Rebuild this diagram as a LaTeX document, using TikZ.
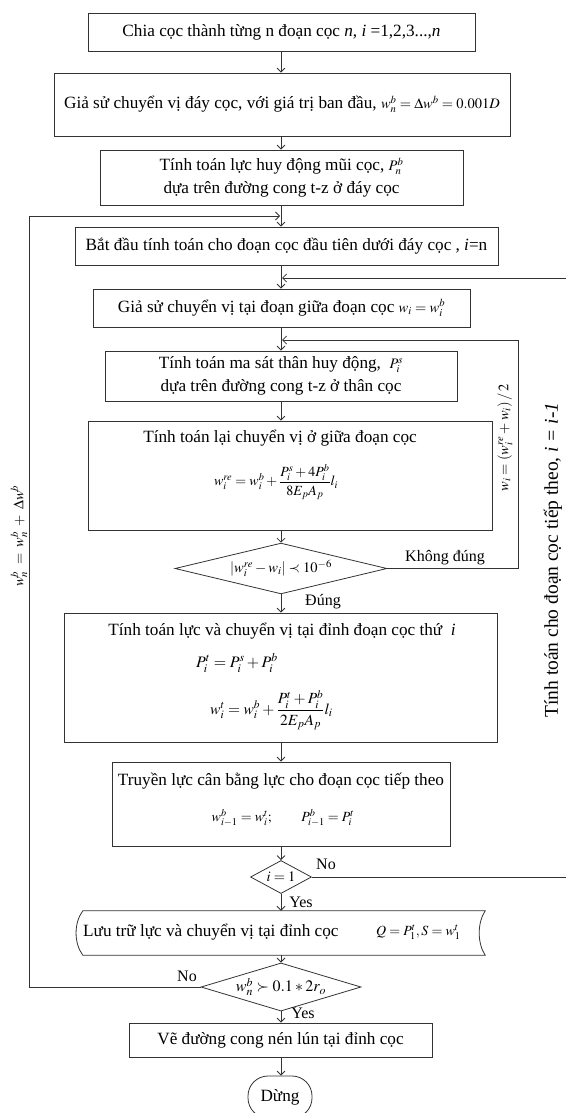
\documentclass[tikz,border=0pt]{standalone}
\usepackage{amsmath}
\usepackage{mathptmx}
\usepackage{fontspec}
\setmainfont{Liberation Serif}
\usetikzlibrary{arrows.meta,shapes.geometric,calc}
\newcommand\bodyfs{\fontsize{17.2}{23}\selectfont}
\newcommand\mathfs{\fontsize{14.5}{18}\selectfont}
\newcommand\labfs{\fontsize{16}{18}\selectfont}
\begin{document}
\begin{tikzpicture}[x=1pt,y=-1pt,
  ln/.style={draw=black!80,line width=0.8pt},
  box/.style={ln, rectangle, inner sep=2pt, align=center, font=\bodyfs},
  dec/.style={ln, diamond, inner sep=0pt, aspect=3, font=\mathfs},
  lbl/.style={font=\labfs, inner sep=1pt},
  txt/.style={inner sep=0pt, font=\bodyfs},
  arr/.style={ln, -{Straight Barb[length=4pt,width=8pt]}}]
\useasboundingbox (0,0) rectangle (565,1113);
\coordinate (col) at (281,0);
% boxes
\node[box, minimum width=387pt, minimum height=38pt] (b1) at (281.5,32) {Chia cọc thành từng n đoạn cọc \textit{n}, \textit{i} =1,2,3...,\textit{n}};
\node[box, minimum width=456pt, minimum height=63pt] (b2) at (282,104.5) {Giả sử chuyển vị đáy cọc, với giá trị ban đầu, {\mathfs$w_n^b=\Delta w^b=0.001D$}};
\node[box, minimum width=363pt, minimum height=55pt] (b3) at (281.5,177.5) {Tính toán lực huy động mũi cọc, {\mathfs$P_n^b$}\\dựa trên đường cong t-z ở đáy cọc};
\node[box, minimum width=423pt, minimum height=38pt] (b4) at (286.5,246) {Bắt đầu tính toán cho đoạn cọc đầu tiên dưới đáy cọc , \textit{i}=n};
\node[box, minimum width=377pt, minimum height=38pt] (b5) at (281.5,308) {Giả sử chuyển vị tại đoạn giữa đoạn cọc {\mathfs$w_i=w_i^b$}};
\node[box, minimum width=352pt, minimum height=50pt] (b6) at (281,376) {Tính toán ma sát thân huy động,\ \ {\mathfs$P_i^s$}\\dựa trên đường cong t-z ở thân cọc};
\node[ln, rectangle, minimum width=404pt, minimum height=109pt] (b7) at (290,475.5) {};
\node[txt] (b7t) at (280,438) {Tính toán lại chuyển vị ở giữa đoạn cọc};
\node[txt, font=\fontsize{14}{16}\selectfont] (b7f) at (276,482) {$w_i^{re}=w_i^b+\dfrac{P_i^s+4P_i^b}{8E_pA_p}l_i$};
\node[dec, minimum width=212pt, minimum height=49pt] (d1) at (281,568.5) {$\left|w_i^{re}-w_i\right|\prec 10^{-6}$};
\node[ln, rectangle, minimum width=433pt, minimum height=129pt] (b8) at (280.5,677.5) {};
\node[txt] (b8t) at (282,631) {Tính toán lực và chuyển vị tại đỉnh đoạn cọc thứ \ \textit{i}};
\node[txt, font=\fontsize{16}{18}\selectfont, anchor=west] (b8f1) at (196,663) {$P_i^t=P_i^s+P_i^b$};
\node[txt, font=\fontsize{15.5}{18}\selectfont, anchor=west] (b8f2) at (210,710) {$w_i^t=w_i^b+\dfrac{P_i^t+P_i^b}{2E_pA_p}l_i$};
\node[ln, rectangle, minimum width=338pt, minimum height=84pt] (b9) at (281,804) {};
\node[txt] (b9t) at (281,781) {Truyền lực cân bằng lực cho đoạn cọc tiếp theo};
\node[txt, font=\fontsize{14}{16}\selectfont] (b9f) at (283,818) {$w_{i-1}^b=w_i^t;\qquad P_{i-1}^b=P_i^t$};
\node[dec, minimum width=61pt, minimum height=33pt] (d2) at (281,877) {$i=1$};
\node[minimum width=409pt, minimum height=44pt, inner sep=0pt] (b10) at (280.5,933) {};
\draw[ln] ($(b10.north west)+(7,0)$) -- (b10.north east)
  .. controls +(-8,12) and +(-8,-12) .. (b10.south east)
  -- ($(b10.south west)+(7,0)$)
  .. controls +(-9,-12) and +(-9,12) .. cycle;
\node[txt, anchor=west] (b10t) at (83,932) {Lưu trữ lực và chuyển vị tại đỉnh cọc};
\node[txt, anchor=west, font=\fontsize{14}{16}\selectfont] (b10f) at (376,932) {$Q=P_1^t,S=w_1^t$};
\node[dec, minimum width=160pt, minimum height=39pt, font=\fontsize{16}{18}\selectfont] (d3) at (281,987) {$w_n^b\succ 0.1*2r_o$};
\node[box, minimum width=303pt, minimum height=34pt] (b11) at (280.5,1040) {Vẽ đường cong nén lún tại đỉnh cọc};
\node[box, rounded corners=20pt, minimum width=64pt, minimum height=42pt] (stop) at (280,1097) {Dừng};
% main flow
\foreach \a/\b in {b1/b2,b2/b3,b3/b4,b4/b5,b5/b6,b6/b7,b7/d1,d1/b8,b8/b9,b9/d2,d2/b10,b10/d3,d3/b11,b11/stop}
  \draw[arr] (\a.south -| col) -- (\b.north -| col);
% labels
\node[lbl] (lk) at (445,558) {Không đúng};
\node[lbl] (ld) at (323,602) {Đúng};
\node[lbl] (ln2) at (326,864) {No};
\node[lbl] (ly2) at (301,902) {Yes};
\node[lbl] (ln3) at (187,976) {No};
\node[lbl] (ly3) at (303,1013) {Yes};
% loops
\coordinate (R3) at (518,340);
\coordinate (J3) at (282,340);
\draw[arr] (d1.east) -| (R3) -- (J3);
\coordinate (R2) at (567,278);
\coordinate (J2) at (282,278);
\draw[arr] (d2.east) -| (R2) -- (J2);
\coordinate (L1) at (29,216);
\coordinate (J1) at (280,216);
\draw[arr] (d3.west) -| (L1) -- (J1);
% rotated texts
\node[txt, rotate=90, font=\mathfs] (lf) at (19,536) {$w_n^b\;=\;w_n^b\;+\;\Delta w^b$};
\node[txt, rotate=90, font=\mathfs] (rf) at (505,438) {$w_i=\left(w_i^{re}+w_i\right)/\,2$};
\node[txt, rotate=90, font=\fontsize{19.5}{21}\selectfont] (rt) at (553,560) {Tính toán cho đoạn cọc tiếp theo, \textit{i = i-1}};
\end{tikzpicture}
\end{document}
